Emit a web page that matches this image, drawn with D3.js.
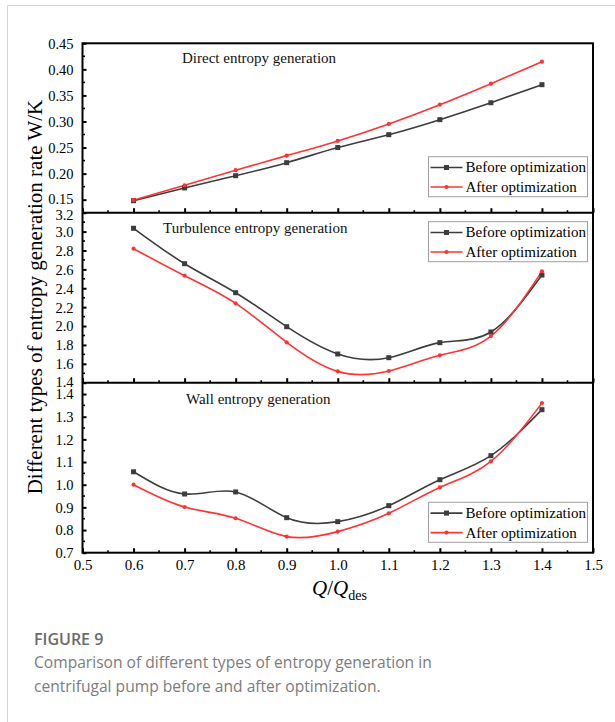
<!DOCTYPE html>
<html>
<head>
<meta charset="utf-8">
<script src="https://cdn.jsdelivr.net/npm/d3@7"></script>
<style>
  html, body { margin: 0; padding: 0; background: #fff; }
  svg { display: block; }
</style>
</head>
<body>
<svg id="chart" width="615" height="722"></svg>
<script>
// Flow-rate ratios Q/Qdes shared by every panel
const flowRatio = [0.6, 0.7, 0.8, 0.9, 1.0, 1.1, 1.2, 1.3, 1.4];
const xTicks = [0.5, 0.6, 0.7, 0.8, 0.9, 1.0, 1.1, 1.2, 1.3, 1.4, 1.5];

// Direct entropy generation (W/K)
const directBefore = [0.148, 0.1725, 0.196, 0.221, 0.250, 0.2747, 0.3035, 0.336, 0.3706];
const directAfter  = [0.149, 0.1777, 0.2065, 0.2345, 0.2627, 0.2953, 0.3323, 0.3726, 0.4148];
const directTicks  = [0.15, 0.20, 0.25, 0.30, 0.35, 0.40, 0.45];

// Turbulence entropy generation (W/K)
const turbBefore = [3.035, 2.66, 2.353, 1.993, 1.704, 1.665, 1.824, 1.937, 2.54];
const turbAfter  = [2.819, 2.533, 2.24, 1.827, 1.52, 1.524, 1.69, 1.894, 2.579];
const turbTicks  = [1.4, 1.6, 1.8, 2.0, 2.2, 2.4, 2.6, 2.8, 3.0, 3.2];

// Wall entropy generation (W/K)
const wallBefore = [1.057, 0.959, 0.968, 0.8545, 0.837, 0.9075, 1.022, 1.128, 1.331];
const wallAfter  = [1.0, 0.9015, 0.852, 0.771, 0.793, 0.874, 0.988, 1.103, 1.36];
const wallTicks  = [0.7, 0.8, 0.9, 1.0, 1.1, 1.2, 1.3, 1.4];

const seriesNames = ["Before optimization", "After optimization"];
const panelTitles = ["Direct entropy generation", "Turbulence entropy generation", "Wall entropy generation"];

const svg = d3.select("#chart");
const serif = "'Liberation Serif', 'Times New Roman', serif";
const colBefore = "#3d3d3d";
const colAfter = "#ff3333";

// page frame
svg.append("line").attr("x1", 7.5).attr("x2", 615).attr("y1", 5.5).attr("y2", 5.5)
  .attr("stroke", "#d4d4d4").attr("stroke-width", 1);
svg.append("line").attr("x1", 7.5).attr("x2", 7.5).attr("y1", 5.5).attr("y2", 722)
  .attr("stroke", "#d4d4d4").attr("stroke-width", 1);

const left = 82.5, right = 593;
const x = d3.scaleLinear().domain([0.5, 1.5]).range([left, right]);

const panels = [
  { title: panelTitles[0], titleX: 182, titleY: 62.5, top: 43.3, bottom: 212.7,
    domain: [0.125, 0.45], step: 0.05, ticks: directTicks, fmt: d3.format(".2f"),
    before: directBefore, after: directAfter, legendTop: 156.7, lowShift: -1, highShift: 0 },
  { title: panelTitles[1], titleX: 163, titleY: 233.3, top: 212.7, bottom: 382.7,
    domain: [1.4, 3.2], step: 0.2, ticks: turbTicks, fmt: d3.format(".1f"),
    before: turbBefore, after: turbAfter, legendTop: 221.7, lowShift: -1.5, highShift: 1.5 },
  { title: panelTitles[2], titleX: 186, titleY: 404.3, top: 382.7, bottom: 552.7,
    domain: [0.7, 1.45], step: 0.1, ticks: wallTicks, fmt: d3.format(".1f"),
    before: wallBefore, after: wallAfter, legendTop: 502.3, lowShift: 0, highShift: 0 }
];

panels.forEach((p, pi) => {
  const y = d3.scaleLinear().domain(p.domain).range([p.bottom, p.top]);
  const g = svg.append("g");

  // series curves
  const line = d3.line().x((d, i) => x(flowRatio[i])).y(d => y(d)).curve(d3.curveNatural);
  g.append("path").datum(p.before).attr("d", line)
    .attr("fill", "none").attr("stroke", colBefore).attr("stroke-width", 1.6);
  g.append("path").datum(p.after).attr("d", line)
    .attr("fill", "none").attr("stroke", colAfter).attr("stroke-width", 1.6);

  g.selectAll(".mb").data(p.before).join("rect")
    .attr("x", (d, i) => x(flowRatio[i]) - 2.5).attr("y", d => y(d) - 2.5)
    .attr("width", 5).attr("height", 5).attr("fill", colBefore);
  g.selectAll(".ma").data(p.after).join("circle")
    .attr("cx", (d, i) => x(flowRatio[i])).attr("cy", d => y(d))
    .attr("r", 2.1).attr("fill", colAfter);

  // left axis: inward major and minor ticks
  const yMajor = d3.axisLeft(y).tickValues(p.ticks).tickSize(-4).tickPadding(9).tickFormat(p.fmt);
  const ya = g.append("g").attr("transform", `translate(${left},0)`).call(yMajor);
  ya.select(".domain").remove();
  ya.selectAll(".tick line").attr("stroke", "#000").attr("stroke-width", 2);
  const lo = p.ticks[0], hi = p.ticks[p.ticks.length - 1];
  ya.selectAll(".tick text").attr("font-family", serif).attr("font-size", 14.5)
    .attr("fill", "#000").attr("dy", "0.34em")
    .attr("y", d => d === lo ? p.lowShift : d === hi ? p.highShift : 0);
  const minors = d3.range(p.domain[0] + p.step / 2, p.domain[1] + 1e-9, p.step / 2)
    .filter(v => Math.abs(Math.round(v / p.step) * p.step - v) > 1e-6)
    .filter(v => v > p.domain[0] + 1e-9 && v < p.domain[1] - 1e-9);
  g.selectAll(".ymin").data(minors).join("line")
    .attr("x1", left).attr("x2", left + 2.5)
    .attr("y1", d => y(d)).attr("y2", d => y(d))
    .attr("stroke", "#000").attr("stroke-width", 1.6);

  // bottom axis: inward ticks
  const xa = g.append("g").attr("transform", `translate(0,${p.bottom})`)
    .call(d3.axisBottom(x).tickValues(xTicks).tickSize(-4.5).tickFormat(d3.format(".1f")));
  xa.select(".domain").remove();
  xa.selectAll(".tick line").attr("stroke", "#000").attr("stroke-width", 2);
  if (pi !== panels.length - 1) xa.selectAll(".tick text").remove();
  else xa.selectAll(".tick text").attr("font-family", serif).attr("font-size", 15)
    .attr("fill", "#000").attr("dy", "0").attr("y", 17.5);
  const xMinor = xTicks.slice(0, -1).map(v => v + 0.05);
  g.selectAll(".xmin").data(xMinor).join("line")
    .attr("x1", d => x(d)).attr("x2", d => x(d))
    .attr("y1", p.bottom).attr("y2", p.bottom - 2.5)
    .attr("stroke", "#000").attr("stroke-width", 1.6);

  // panel title
  g.append("text").attr("x", p.titleX).attr("y", p.titleY)
    .attr("font-family", serif).attr("font-size", 15).attr("fill", "#111").text(p.title);

  // legend
  const lg = g.append("g").attr("transform", `translate(428.5,${p.legendTop})`);
  lg.append("rect").attr("width", 159).attr("height", 40)
    .attr("fill", "#fff").attr("stroke", "#a0a0a0").attr("stroke-width", 1);
  [colBefore, colAfter].forEach((c, i) => {
    const cy = 10.8 + i * 19.5;
    lg.append("line").attr("x1", 2).attr("x2", 34).attr("y1", cy).attr("y2", cy)
      .attr("stroke", c).attr("stroke-width", 1.6);
    if (i === 0) lg.append("rect").attr("x", 15.5).attr("y", cy - 2.5).attr("width", 5).attr("height", 5).attr("fill", c);
    else lg.append("circle").attr("cx", 18).attr("cy", cy).attr("r", 2.1).attr("fill", c);
    lg.append("text").attr("x", 37).attr("y", cy + 5)
      .attr("font-family", serif).attr("font-size", 15).attr("fill", "#000").text(seriesNames[i]);
  });
});

// plot frame
svg.append("rect").attr("x", left).attr("y", 43.3).attr("width", right - left).attr("height", 552.7 - 43.3)
  .attr("fill", "none").attr("stroke", "#000").attr("stroke-width", 2);
[212.7, 382.7].forEach(yy => svg.append("line").attr("x1", left).attr("x2", right)
  .attr("y1", yy).attr("y2", yy).attr("stroke", "#000").attr("stroke-width", 2));

// axis titles
svg.append("text").attr("transform", "translate(42,297) rotate(-90)")
  .attr("text-anchor", "middle").attr("font-family", serif).attr("font-size", 21).attr("fill", "#000")
  .text("Different types of entropy generation rate W/K");
const xt = svg.append("text").attr("x", 312).attr("y", 595)
  .attr("font-family", serif).attr("font-size", 21).attr("fill", "#000");
xt.append("tspan").attr("font-style", "italic").text("Q");
xt.append("tspan").text("/");
xt.append("tspan").attr("font-style", "italic").text("Q");
xt.append("tspan").attr("font-size", 14).attr("dy", 5).text("des");

// caption
const sans = "'Open Sans', 'Noto Sans', sans-serif";
svg.append("text").attr("x", 34).attr("y", 645).attr("font-family", sans).attr("font-size", 16)
  .attr("font-weight", 600).attr("fill", "#6a6a6a").text("FIGURE 9");
svg.append("text").attr("x", 34).attr("y", 668.3).attr("font-family", sans).attr("font-size", 15.6)
  .attr("fill", "#7c7c7c").text("Comparison of different types of entropy generation in");
svg.append("text").attr("x", 34).attr("y", 691.7).attr("font-family", sans).attr("font-size", 15.6)
  .attr("fill", "#7c7c7c").text("centrifugal pump before and after optimization.");
</script>
</body>
</html>
